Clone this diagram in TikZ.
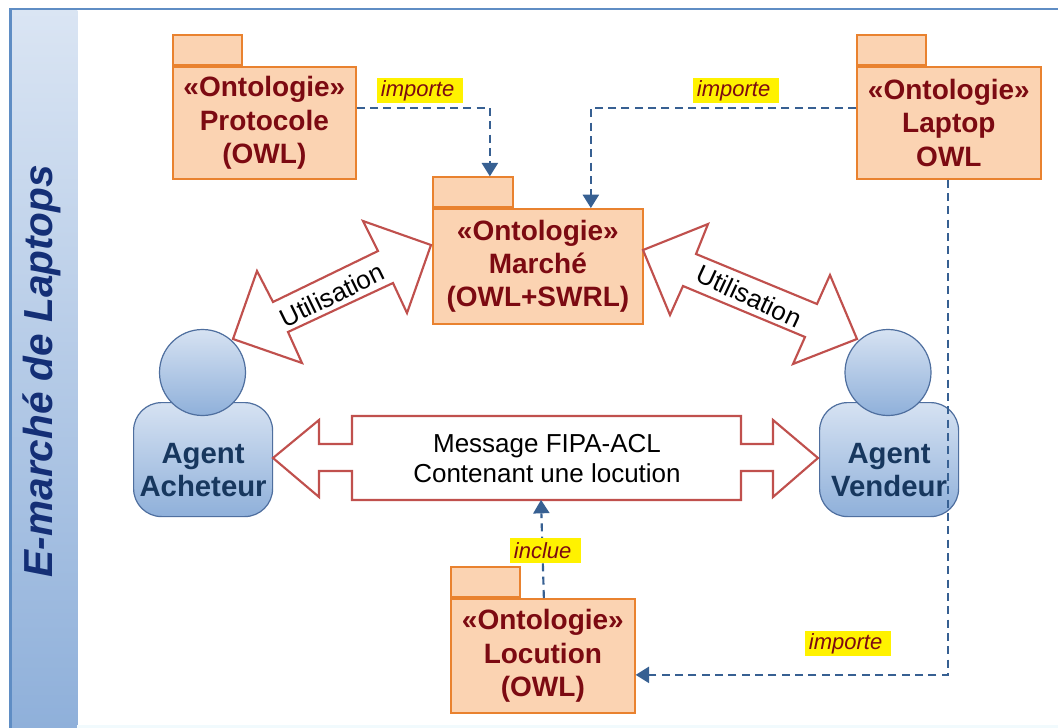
\documentclass[tikz,border=0pt]{standalone}
\usepackage{fontspec}
\setmainfont{Liberation Sans}
\usetikzlibrary{arrows.meta,positioning,calc}
\definecolor{pkgfill}{HTML}{FBD3B2}
\definecolor{pkgline}{HTML}{E9822F}
\definecolor{pkgtext}{HTML}{7C0A12}
\definecolor{redline}{HTML}{C0504D}
\definecolor{dashblue}{HTML}{376092}
\definecolor{frameblue}{HTML}{5F8DC4}
\definecolor{agenttext}{HTML}{17375E}
\definecolor{agentline}{HTML}{4F6F9F}
\definecolor{agenttop}{HTML}{D6E2F2}
\definecolor{agentbot}{HTML}{8FB0DA}
\tikzset{
  x=0.75pt,y=-0.75pt,
  pkgbody/.style={draw=pkgline,fill=pkgfill,line width=1.3pt,inner sep=0pt,anchor=north west,
    align=center,font=\fontsize{21}{25}\selectfont\bfseries,text=pkgtext},
  pkgtab/.style={draw=pkgline,fill=pkgfill,line width=1.3pt,inner sep=0pt,anchor=south west,
    minimum width=52pt,minimum height=22.5pt},
  dep/.style={draw=dashblue,line width=1.6pt,dash pattern=on 6pt off 4pt,
    -{Triangle[length=10pt,width=12.5pt,fill=dashblue,line width=0pt,sep=0pt]}},
  deplabel/.style={fill=yellow,text=pkgtext,font=\fontsize{16.5}{20}\selectfont\itshape,
    inner sep=0pt,minimum height=18.75pt,anchor=north west},
  bigarrow/.style={draw=redline,fill=white,line width=1.6pt,line join=miter,miter limit=10},
  arrowlabel/.style={font=\fontsize{19.5}{23}\selectfont,text=black,align=center},
  agentbody/.style={draw=agentline,line width=0.9pt,rounded corners=21pt,top color=agenttop,bottom color=agentbot,
    minimum width=104.25pt,minimum height=85.5pt,inner sep=0pt,anchor=north west,
    align=center,font=\fontsize{22}{25}\selectfont\bfseries,text=agenttext},
  agenthead/.style={draw=agentline,line width=0.9pt,circle,top color=agenttop,bottom color=agentbot,
    minimum size=64.5pt,inner sep=0pt},
}
\begin{document}
\begin{tikzpicture}
\useasboundingbox (0,0) rectangle (1058,728);
% frame and band
\fill[white] (0,0) rectangle (1058,728);
\node[draw=none,inner sep=0pt,minimum width=49.5pt,minimum height=538.5pt,anchor=north west,
  top color=agenttop!90!white,bottom color=agentbot] (band) at (11,10) {};
\draw[frameblue,line width=1.6pt] (10.5,728) -- (10.5,9) -- (1058,9);
\fill[gray!12!cyan!6!white] (77,725) rectangle (1058,728);
\node[rotate=90,font=\fontsize{30.4}{36}\selectfont\bfseries\itshape,text=agenttext!85!blue] (title) at (42,371) {E-marché de Laptops};

% packages
\node[pkgtab] (prottab) at (172,66) {};
\node[pkgbody,minimum width=137.25pt,minimum height=84pt] (prot) at (172,66) {«Ontologie»\\Protocole\\(OWL)};
\node[pkgtab] (laptab) at (856,66) {};
\node[pkgbody,minimum width=138pt,minimum height=84pt] (lap) at (856,66) {«Ontologie»\\Laptop\\OWL};
\node[pkgtab,minimum width=60pt] (martab) at (432,208) {};
\node[pkgbody,minimum width=157.5pt,minimum height=86.25pt] (mar) at (432,208) {«Ontologie»\\Marché\\(OWL+SWRL)};
\node[pkgtab] (loctab) at (450,598) {};
\node[pkgbody,minimum width=138pt,minimum height=85.5pt] (loc) at (450,598) {«Ontologie»\\Locution\\(OWL)};

% agents
\node[agentbody] (ach) at (133,402) {\\[6pt]Agent\\Acheteur};
\node[agenthead] (achhead) at (202.5,372.5) {};
\node[agentbody] (ven) at (819,402) {\\[6pt]Agent\\Vendeur};
\node[agenthead] (venhead) at (888,372.5) {};

% block arrows
\draw[bigarrow] (431,245) -- (363,221) -- (378,251) -- (273,302) -- (257,271) -- (233,339) -- (302,363) -- (288,332) -- (393,283) -- (407,313) -- cycle;
\node[arrowlabel,rotate=26] (ut1) at (332,295) {Utilisation};
\draw[bigarrow] (643,250) -- (708,224) -- (696,254) -- (817,304) -- (830,275) -- (857,339) -- (793,364) -- (805,337) -- (683,286) -- (670,315) -- cycle;
\node[arrowlabel,rotate=-25] (ut2) at (749,296) {Utilisation};
\draw[bigarrow] (273,458) -- (319,420) -- (319,444) -- (352,444) -- (352,416) -- (741,416) -- (741,444) -- (773,444) -- (773,420) -- (818,458) -- (773,497) -- (773,471) -- (741,471) -- (741,500) -- (352,500) -- (352,471) -- (319,471) -- (319,497) -- cycle;
\node[arrowlabel] (msg) at (547,458.5) {Message FIPA-ACL\\Contenant une locution};

% dependencies
\draw[dep] ([yshift=11.25pt]prot.east) -| ([xshift=12.75pt]martab.north);
\draw[dep] ([yshift=11.25pt]lap.west) -| ([xshift=39.75pt]mar.north);
\draw[dep] ([xshift=-0.75pt]lap.south) |- ([yshift=-14.25pt]loc.east);
\draw[dep] ([xshift=0.75pt]loc.north) -- (541,500);

% labels
\node[deplabel,minimum width=64.5pt,text width=64.5pt] (l1) at (377,78) {\,importe};
\node[deplabel,minimum width=64.5pt,text width=64.5pt] (l2) at (693,78) {\,importe};
\node[deplabel,minimum width=64.5pt,text width=64.5pt] (l3) at (805,631) {\,importe};
\node[deplabel,minimum width=53pt,text width=53pt] (l4) at (510,538) {\,inclue};
\end{tikzpicture}
\end{document}
